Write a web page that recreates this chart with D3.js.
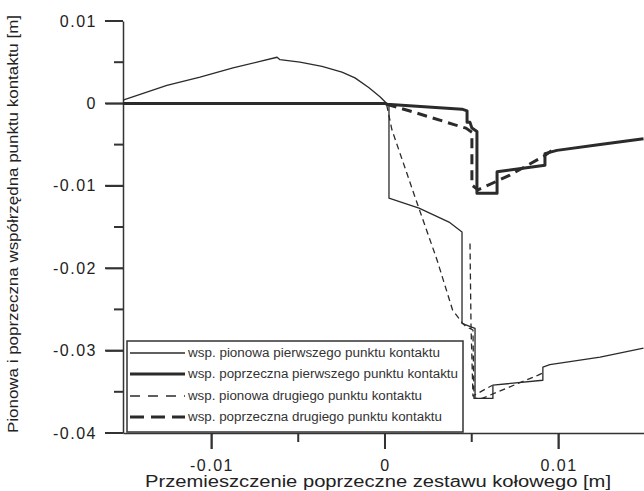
<!DOCTYPE html>
<html>
<head>
<meta charset="utf-8">
<title>Przemieszczenie poprzeczne zestawu kolowego</title>
<script src="https://d3js.org/d3.v7.min.js"></script>
<style>
body { margin: 0; background: #fff; }
svg { display: block; font-family: "Liberation Sans", Arial, sans-serif; }
.axis text { fill: #222; font-size: 16px; letter-spacing: 1.5px; }
</style>
</head>
<body>
<script>
// values, [x, y] in metres; null = break in line
var pionowaPierwszego = [
  [-0.0151, 0.0004], [-0.01257, 0.0022], [-0.01066, 0.0032], [-0.00876, 0.0043],
  [-0.0072, 0.0051], [-0.00622, 0.0056], [-0.00605, 0.0053], [-0.0049, 0.0050],
  [-0.00363, 0.0045], [-0.00248, 0.0038], [-0.00173, 0.0031], [-0.00092, 0.0019],
  [-0.00029, 0.0008], [0, 0.0002], [0.00023, -0.0003], [0.00023, -0.0115],
  [0.00196, -0.0127], [0.00369, -0.0144], [0.00444, -0.0156], [0.00444, -0.0267],
  [0.00507, -0.0272], [0.00519, -0.0273], [0.00519, -0.0358], [0.00622, -0.0358],
  [0.00622, -0.0342], [0.0091, -0.0336], [0.0091, -0.0320], [0.0095, -0.0317],
  [0.0124, -0.0308], [0.0149, -0.0297]
];
var poprzecznaPierwszego = [
  [-0.0151, 0.0], [0, 0.0], [0.0001, -0.0001], [0.00444, -0.0007], [0.00473, -0.0009],
  [0.00473, -0.0023], [0.0049, -0.0023], [0.00501, -0.0030], [0.0053, -0.0034],
  [0.0053, -0.0109], [0.00646, -0.0109], [0.00646, -0.0083], [0.00922, -0.0075],
  [0.00922, -0.0061], [0.00991, -0.0057], [0.0124, -0.0050], [0.0149, -0.0043]
];
var pionowaDrugiego = [
  [0.0001, -0.0002], [0.0004, -0.0032], [0.0019, -0.0124], [0.003, -0.019],
  [0.0039, -0.0251], [0.00444, -0.0266], [0.00467, -0.0271], [0.00507, -0.0275],
  [0.00513, -0.0358], [0.0056, -0.0358], [0.0088, -0.0330], [0.0091, -0.0327],
  null,
  [0.0049, -0.0170], [0.00496, -0.0271], [0.00507, -0.0355], [0.0062, -0.0342]
];
var poprzecznaDrugiego = [
  [0.0001, -0.0001], [0.00156, -0.0010], [0.00403, -0.0026], [0.00467, -0.0030],
  [0.00501, -0.0035], [0.00501, -0.0099], [0.00536, -0.0105], [0.0072, -0.0087],
  [0.00916, -0.0064], [0.00963, -0.0057]
];

var seriesNames = [
  "wsp. pionowa pierwszego punktu kontaktu",
  "wsp. poprzeczna pierwszego punktu kontaktu",
  "wsp. pionowa drugiego punktu kontaktu",
  "wsp. poprzeczna drugiego punktu kontaktu"
];
var xTicks = [-0.01, 0, 0.01],
    xMinor = [-0.005, 0.005, 0.015],
    yTicks = [0.01, 0, -0.01, -0.02, -0.03, -0.04],
    yMinor = [0.005, -0.005, -0.015, -0.025, -0.035];

var w = 644, h = 491;

var x = d3.scaleLinear().domain([-0.0151, 0.0149]).range([123, 643.5]),
    y = d3.scaleLinear().domain([-0.04, 0.01]).range([433, 21]);

var svg = d3.select("body").append("svg")
    .attr("width", w)
    .attr("height", h);

var fmt = function(d) { return d === 0 ? "0" : String(d); };

// axes: labels and domain from d3.axis
var yAxis = svg.append("g").attr("class", "axis")
   .attr("transform", "translate(123,0)")
   .call(d3.axisLeft(y).tickValues(yTicks).tickFormat(fmt).tickSize(17).tickSizeOuter(0).tickPadding(9));
var xAxis = svg.append("g").attr("class", "axis")
   .attr("transform", "translate(0,433)")
   .call(d3.axisBottom(x).tickValues(xTicks).tickFormat(fmt).tickSize(16).tickSizeOuter(0).tickPadding(11));
svg.selectAll(".axis .domain").attr("stroke", "#333").attr("stroke-width", 1.5);
yAxis.selectAll("text").attr("text-anchor", "end");
xAxis.selectAll("text").attr("text-anchor", "middle");

// tick marks as small filled rects
var tickG = svg.append("g").attr("fill", "#333");
tickG.selectAll(".ymaj").data(yTicks).enter().append("rect")
   .attr("x", 105).attr("y", function(d) { return y(d) - 1; })
   .attr("width", 18).attr("height", 2);
tickG.selectAll(".ymin").data(yMinor).enter().append("rect")
   .attr("x", 114).attr("y", function(d) { return y(d) - 1; })
   .attr("width", 9).attr("height", 2);
tickG.selectAll(".xmaj").data(xTicks).enter().append("rect")
   .attr("x", function(d) { return x(d) - 1; }).attr("y", 433)
   .attr("width", 2).attr("height", 16);
tickG.selectAll(".xmin").data(xMinor).enter().append("rect")
   .attr("x", function(d) { return x(d) - 1; }).attr("y", 433)
   .attr("width", 2).attr("height", 9);

// axis titles
svg.append("text")
   .attr("transform", "translate(18,224) rotate(-90)")
   .attr("text-anchor", "middle")
   .attr("textLength", 418)
   .attr("lengthAdjust", "spacingAndGlyphs")
   .style("font-size", "15px")
   .style("fill", "#222")
   .text("Pionowa i poprzeczna współrzędna punktu kontaktu [m]");

svg.append("text")
   .attr("x", 378).attr("y", 487)
   .attr("text-anchor", "middle")
   .attr("textLength", 466)
   .attr("lengthAdjust", "spacingAndGlyphs")
   .style("font-size", "16px")
   .style("fill", "#222")
   .text("Przemieszczenie poprzeczne zestawu kołowego [m]");

// lines
var styles = [
  { width: 1.3, dash: null, legendDash: null },
  { width: 3, dash: null, legendDash: null },
  { width: 1.3, dash: "6,4", legendDash: "10,8" },
  { width: 3, dash: "10,6", legendDash: "14,7" }
];
var allSeries = [pionowaPierwszego, poprzecznaPierwszego, pionowaDrugiego, poprzecznaDrugiego];

var line = d3.line()
    .defined(function(d) { return d !== null; })
    .x(function(d) { return x(d[0]); })
    .y(function(d) { return y(d[1]); });

allSeries.forEach(function(s, i) {
  svg.append("path")
     .attr("d", line(s))
     .attr("fill", "none")
     .attr("stroke", "#2b2b2b")
     .attr("stroke-width", styles[i].width)
     .attr("stroke-dasharray", styles[i].dash)
     .attr("stroke-linejoin", "round");
});

// legend
var legend = svg.append("g");
legend.append("rect")
   .attr("x", 127).attr("y", 341)
   .attr("width", 336).attr("height", 91)
   .attr("fill", "#fff")
   .attr("stroke", "#333")
   .attr("stroke-width", 1.5);

var rowY = [353, 374, 396, 417],
    textLen = [252, 270, 234, 254];

seriesNames.forEach(function(name, i) {
  legend.append("line")
     .attr("x1", 130).attr("x2", 185)
     .attr("y1", rowY[i]).attr("y2", rowY[i])
     .attr("stroke", "#2b2b2b")
     .attr("stroke-width", styles[i].width)
     .attr("stroke-dasharray", styles[i].legendDash);
  legend.append("text")
     .attr("x", 188).attr("y", rowY[i])
     .attr("dy", "0.35em")
     .attr("textLength", textLen[i])
     .attr("lengthAdjust", "spacingAndGlyphs")
     .style("font-size", "12px")
     .style("fill", "#333")
     .text(name);
});
</script>
</body>
</html>
